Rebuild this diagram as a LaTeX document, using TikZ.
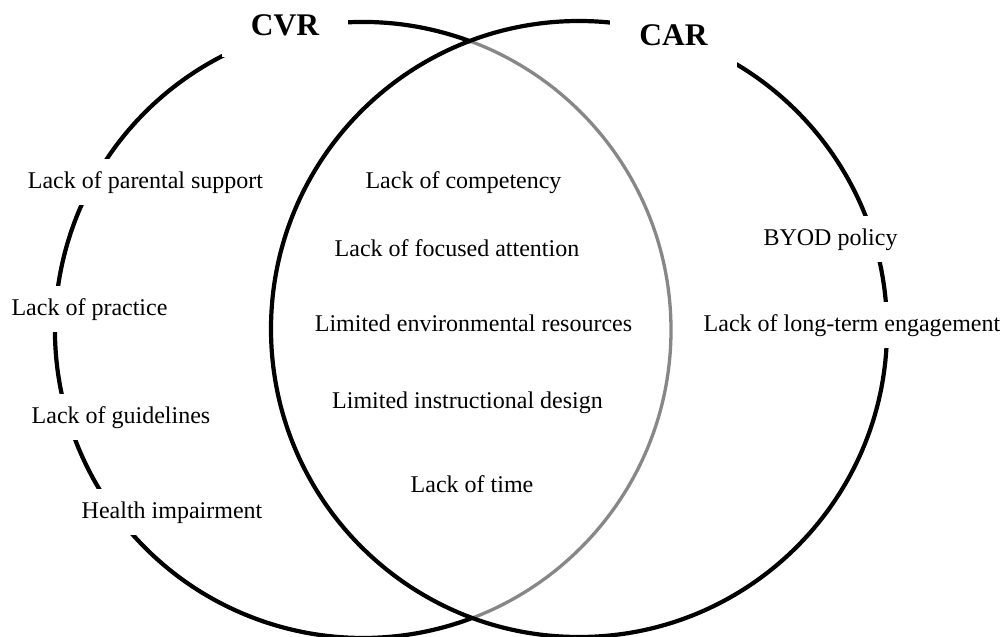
\documentclass[tikz,border=0pt]{standalone}
\usepackage{fontspec}
\setmainfont{Liberation Serif}
\usetikzlibrary{calc}
\definecolor{arcgrey}{gray}{0.53}
\tikzset{
  ring/.style={line width=4.2pt, black},
  inner ring/.style={line width=3.3pt, arcgrey},
  factor/.style={fill=white, anchor=base, inner xsep=3pt, inner ysep=12pt, font=\fontsize{24}{28}\selectfont},
  title/.style={fill=white, anchor=base, inner xsep=29pt, inner ysep=22pt, font=\bfseries\fontsize{31.5}{36}\selectfont},
}

\begin{document}
\begin{tikzpicture}[x=1pt, y=-1pt]
\useasboundingbox (0,0) rectangle (1004,637);
\coordinate (cvr) at (363,330);
\coordinate (car) at (579,329);
% left ring, grey where it runs inside the right ring
\draw[inner ring] (cvr) circle[radius=308];
\draw[ring] ($(cvr)+(-69.47:308)$) arc[start angle=-69.47, end angle=-290.53, radius=308];
\draw[ring] (car) circle[radius=308];
% titles
\node[title] (cvrlabel) at (285,35) {CVR};
\node[title] (carlabel) at (673.5,45) {CAR};
% CVR only
\node[factor] (parental) at (145.5,188) {Lack of parental support};
\node[factor] (practice) at (89.5,315) {Lack of practice};
\node[factor] (guidelines) at (121,423) {Lack of guidelines};
\node[factor] (health) at (172,518) {Health impairment};
% both
\node[factor] (competency) at (463.5,188) {Lack of competency};
\node[factor] (attention) at (457,256) {Lack of focused attention};
\node[factor] (resources) at (473.5,331) {Limited environmental resources};
\node[factor] (design) at (467.5,408) {Limited instructional design};
\node[factor] (time) at (472,492) {Lack of time};
% CAR only
\node[factor] (byod) at (830.5,245) {BYOD policy};
\node[factor] (engagement) at (852,331) {Lack of long-term engagement};
\end{tikzpicture}
\end{document}
